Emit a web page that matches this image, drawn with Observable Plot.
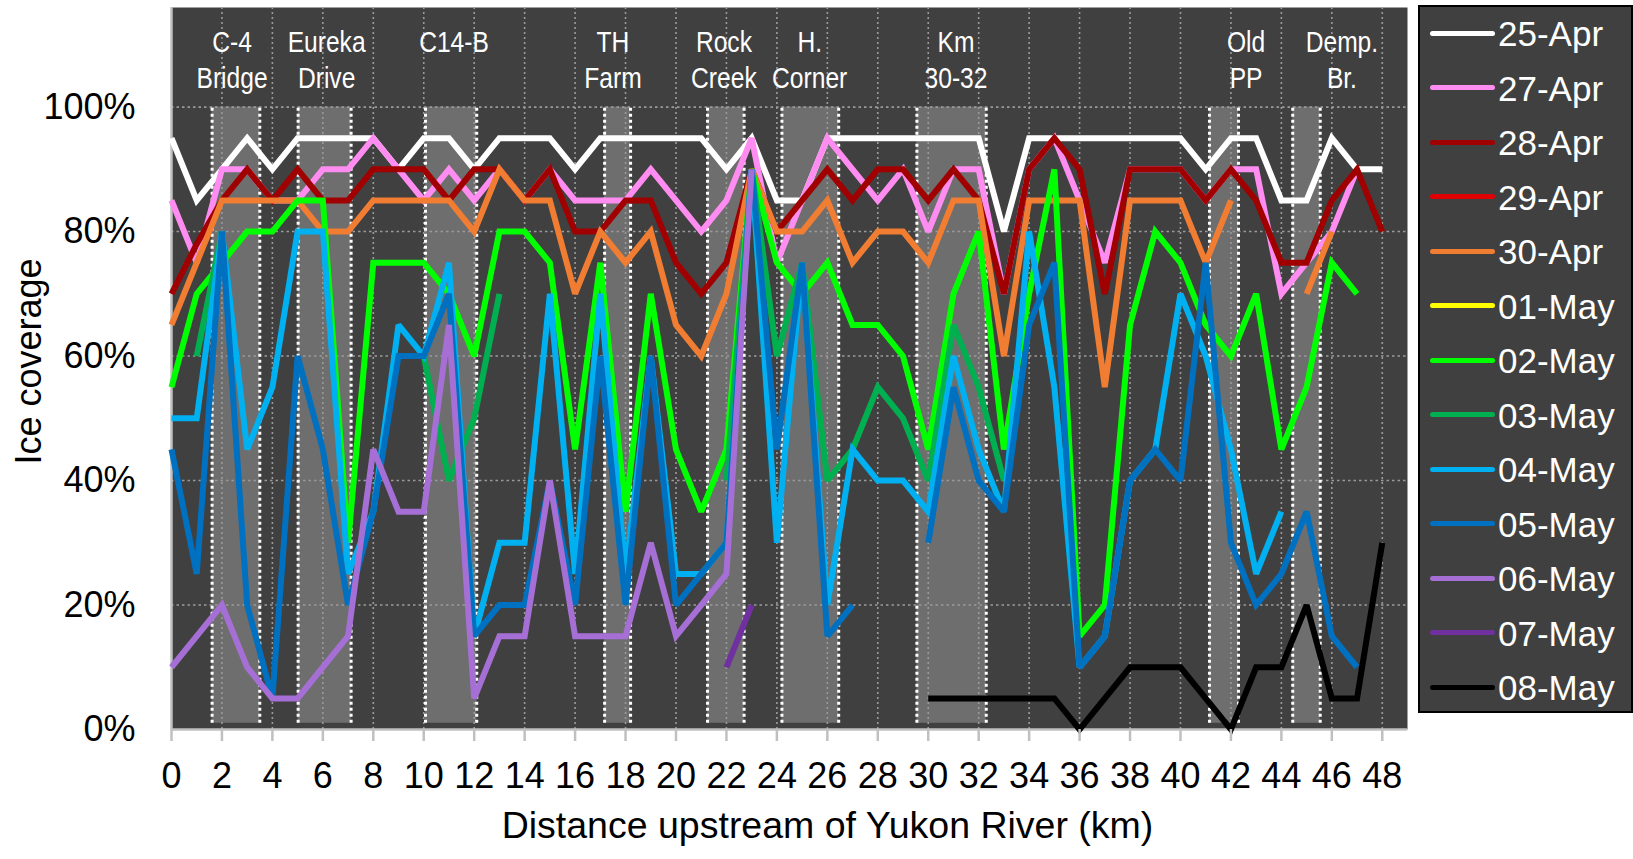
<!DOCTYPE html>
<html><head><meta charset="utf-8">
<script src="https://cdn.jsdelivr.net/npm/d3@7"></script>
<script src="https://cdn.jsdelivr.net/npm/@observablehq/plot@0.6"></script>
<style>
body{margin:0;background:#fff;}
#wrap{position:relative;width:1633px;height:859px;font-family:"Liberation Sans",Arial,sans-serif;}
#legend{position:absolute;left:1418px;top:5px;width:215px;height:708px;box-sizing:border-box;background:#404040;border:2px solid #000;}
.item{position:absolute;left:0;height:0;}
.sw{position:absolute;left:10px;width:65px;height:5px;top:-2.5px;border-radius:2.5px}
.lb{position:absolute;left:78px;top:-19px;font-size:35px;line-height:40px;color:#fff;white-space:nowrap}
</style></head>
<body>
<div id="wrap"><div id="chart"></div><div id="legend"></div></div>
<script>
// ---- data ----
const km = d3.range(0, 49);
const xTicks = [0,2,4,6,8,10,12,14,16,18,20,22,24,26,28,30,32,34,36,38,40,42,44,46,48];
const yTicks = [0, 0.2, 0.4, 0.6, 0.8, 1.0];

const seriesNames = ["25-Apr","27-Apr","28-Apr","29-Apr","30-Apr","01-May","02-May","03-May","04-May","05-May","06-May","07-May","08-May"];
const seriesColors = ["#ffffff","#ff8cf0","#a00000","#e00000","#f07d32","#ffff00","#00ff00","#00b050","#00b0f0","#0070c0","#a66fd6","#7030a0","#000000"];

const _ = null;
const s25Apr = [95,85,90,95,90,95,95,95,95,90, 95,95,90,95,95,95,90,95,95,95, 95,95,90,95,85,85,95,95,95,95, 95,95,95,80,95,95,95,95,95,95, 95,90,95,95,85,85,95,90,90];
const s27Apr = [85,75,90,90,85,85,90,90,95,90, 85,90,85,90,85,90,85,85,85,90, 85,80,85,95,75,85,95,90,85,90, 80,90,90,70,90,95,85,75,90,90, 90,85,90,90,70,75,80,90,_];
const s28Apr = [70,78,85,90,85,90,85,85,90,90, 90,85,90,90,85,90,80,80,85,85, 75,70,75,90,80,85,90,85,90,90, 85,90,85,70,90,95,90,70,90,90, 90,85,90,85,75,75,85,90,80];
const s29Apr = [];
const s30Apr = [65,75,85,85,85,85,80,80,85,85, 85,85,80,90,85,85,70,80,75,80, 65,60,70,90,80,80,85,75,80,80, 75,85,85,60,85,85,85,55,85,85, 85,75,85,_,_,70,80,_,_];
const s01May = [];
const s02May = [55,70,75,80,80,85,85,30,75,75, 75,70,60,80,80,75,45,75,35,70, 45,35,45,90,75,70,75,65,65,60, 45,70,80,45,70,90,15,20,65,80, 75,65,60,70,45,55,75,70,_];
const s03May = [_,60,80,_,_,_,_,_,_,_, 60,40,50,70,_,_,_,_,_,_, _,_,40,90,60,75,40,45,55,50, 40,65,55,40,_,_,_,_,_,_, _,_,_,_,_,_,_,_,_];
const s04May = [50,50,80,45,55,80,80,25,35,65, 60,75,15,30,30,70,25,70,25,60, 25,25,30,90,30,75,20,45,40,40, 35,60,45,35,80,55,10,15,40,45, 70,60,45,25,35,_,_,_,_];
const s05May = [45,25,80,20,5,60,45,20,35,60, 60,70,15,20,20,40,20,60,20,60, 20,25,30,90,45,75,15,20,_,_, 30,55,40,35,65,75,10,15,40,45, 40,75,30,20,25,35,15,10,_];
const s06May = [10,15,20,10,5,5,10,15,45,35, 35,65,5,15,15,40,15,15,15,30, 15,20,25,90];
const s07May = [_,_,_,_,_,_,_,_,_,_, _,_,_,_,_,_,_,_,_,_, _,_,10,20];
const s08May = [_,_,_,_,_,_,_,_,_,_, _,_,_,_,_,_,_,_,_,_, _,_,_,_,_,_,_,_,_,_, 5,5,5,5,5,5,0,5,10,10, 10,5,0,10,10,20,5,5,30];
const seriesValues = [s25Apr,s27Apr,s28Apr,s29Apr,s30Apr,s01May,s02May,s03May,s04May,s05May,s06May,s07May,s08May];

// reaches (shaded) along the river, in km
const siteNames = ["C-4\nBridge","Eureka\nDrive","C14-B","TH\nFarm","Rock\nCreek","H.\nCorner","Km\n30-32","Old\nPP","Demp.\nBr."];
const siteLabelKm = [2.4, 6.15, 11.2, 17.5, 21.9, 25.3, 31.1, 42.6, 46.4];
const siteStart = [1.61, 5.02, 10.07, 17.17, 21.25, 24.2, 29.55, 41.15, 44.45];
const siteEnd   = [3.5, 7.12, 12.1, 18.2, 22.7, 26.45, 32.3, 42.3, 45.54];

// ---- build tables ----
const rows = [];
seriesNames.forEach((name, i) => {
  km.forEach((k, j) => {
    const v = seriesValues[i][j];
    rows.push({series: name, km: k, v: (v === null || v === undefined) ? NaN : v / 100});
  });
});
const sites = siteNames.map((n, i) => ({name: n, lx: siteLabelKm[i], x1: siteStart[i], x2: siteEnd[i]}));
const edges = sites.flatMap(s => [s.x1, s.x2]);

const plot = Plot.plot({
  width: 1633, height: 859,
  marginLeft: 171, marginRight: 226, marginTop: 7, marginBottom: 130,
  x: {domain: [0, 49]},
  y: {domain: [0, 1.16]},
  color: {domain: seriesNames, range: seriesColors},
  style: {fontFamily: "'Liberation Sans', Arial, sans-serif", fontSize: "36px", background: "white", overflow: "visible"},
  marks: [
    Plot.frame({fill: "#404040", stroke: null}),
    Plot.rect(sites, {x1: "x1", x2: "x2", y1: 0.01, y2: 1.0, fill: "#6e6e6e"}),
    Plot.gridX({ticks: xTicks.slice(1), stroke: "#9a9a9a", strokeOpacity: 1, strokeWidth: 1.6, strokeDasharray: "2,3"}),
    Plot.gridY({ticks: yTicks.slice(1), stroke: "#9a9a9a", strokeOpacity: 1, strokeWidth: 1.6, strokeDasharray: "2.5,3"}),
    Plot.ruleX(edges, {x: d => d, y1: 0.01, y2: 1.0, stroke: "#ffffff", strokeWidth: 3, strokeDasharray: "3,3"}),
    Plot.ruleY([0], {stroke: "#c0c0c0", strokeWidth: 2.5}),
    Plot.ruleX([0], {stroke: "#c0c0c0", strokeWidth: 2.5}),
    Plot.line(rows, {x: "km", y: "v", z: "series", stroke: "series", strokeWidth: 6, strokeLinejoin: "miter", strokeMiterlimit: 2.5, strokeLinecap: "butt"}),
    Plot.text(sites, {x: "lx", frameAnchor: "top", text: "name", fill: "#ffffff", fontSize: 30, ariaDescription: "site-labels", lineAnchor: "top", lineHeight: 1.2, dy: 18.5}),
    Plot.axisX({ticks: xTicks, tickSize: 12, tickPadding: 21, stroke: "#c0c0c0", strokeWidth: 2.5, fill: "#000000", fontSize: 36, label: null, tickFormat: d => String(d)}),
    Plot.axisY({ticks: yTicks, tickSize: 0, tickPadding: 36, fill: "#000000", fontSize: 36, label: null, tickFormat: d3.format(".0%")}),
    Plot.text(["Ice coverage"], {frameAnchor: "left", rotate: -90, dx: -142, dy: 96, fontSize: 36, fill: "#000000"}),
    Plot.text(["Distance upstream of Yukon River (km)"], {frameAnchor: "bottom", dx: 38, dy: 108, fontSize: 37.5, fill: "#000000"})
  ]
});
document.getElementById("chart").appendChild(plot);

// condense the site labels horizontally (narrow face look)
const siteSet = new Set(siteNames.flatMap(n => n.split("\n")));
d3.select(plot).selectAll("text").each(function() {
  const parts = Array.from(this.querySelectorAll("tspan")).map(t => t.textContent);
  const content = parts.length ? parts : [this.textContent];
  if (content.every(c => siteSet.has(c))) {
    const t = this.getAttribute("transform") || "";
    this.setAttribute("transform", t + " scale(0.82,1)");
  }
});

// ---- legend ----
const legend = document.getElementById("legend");
seriesNames.forEach((name, i) => {
  const it = document.createElement("div");
  it.className = "item";
  it.style.top = (26 + i * 54.5) + "px";
  const sw = document.createElement("div");
  sw.className = "sw";
  sw.style.background = seriesColors[i];
  const lb = document.createElement("div");
  lb.className = "lb";
  lb.textContent = name;
  it.appendChild(sw); it.appendChild(lb);
  legend.appendChild(it);
});
</script>
</body></html>
